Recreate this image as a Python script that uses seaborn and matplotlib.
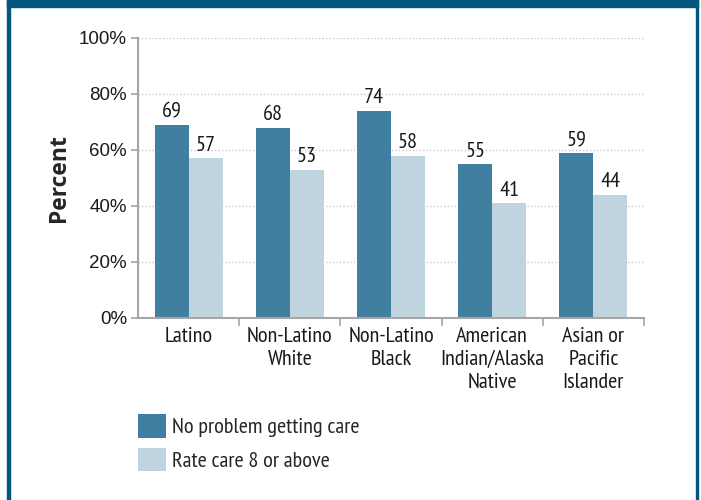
import pandas as pd
import matplotlib.pyplot as plt
import seaborn as sns
from matplotlib.patches import Rectangle
from matplotlib.ticker import FixedLocator

# Data
groups = ['Latino', 'Non-Latino\nWhite', 'Non-Latino\nBlack',
          'American\nIndian/Alaska\nNative', 'Asian or\nPacific\nIslander']
measures = ['No problem getting care', 'Rate care 8 or above']
no_problem = [69, 68, 74, 55, 59]
rate_care = [57, 53, 58, 41, 44]

dark = '#417fa0'
light = '#c0d4df'
frame = '#03577f'

df = pd.DataFrame({
    'Group': groups * 2,
    'Measure': [measures[0]] * 5 + [measures[1]] * 5,
    'Value': no_problem + rate_care,
})

sns.set_style('white')
plt.rcParams['font.family'] = ['PT Sans Narrow', 'Fira Sans Condensed',
                               'Roboto Condensed', 'Open Sans', 'DejaVu Sans']

W, H = 701, 500
fig = plt.figure(figsize=(W / 100, H / 100), dpi=100)
ax = fig.add_axes([138 / W, 1 - 318 / H, (644 - 138) / W, (318 - 38) / H])

sns.barplot(data=df, x='Group', y='Value', hue='Measure',
            palette=[dark, light], width=0.67, saturation=1, ax=ax,
            linewidth=0)

handles, labels = ax.get_legend_handles_labels()
ax.get_legend().remove()

for c in ax.containers:
    ax.bar_label(c, padding=2.5, fontsize=16, color='#1a1a1a')

ax.set_ylim(0, 100)
ax.set_xlim(-0.5, 4.5)
ax.set_yticks([0, 20, 40, 60, 80, 100])
ax.set_yticklabels([f'{v}%' for v in range(0, 101, 20)],
                   family=['Liberation Sans', 'DejaVu Sans'])
ax.yaxis.grid(True, linestyle=(0, (1, 1.5)), color='#c8c8c8', linewidth=1)
ax.set_axisbelow(True)

for s in ['top', 'right']:
    ax.spines[s].set_visible(False)
for s in ['left', 'bottom']:
    ax.spines[s].set_color('#a6a6a6')
    ax.spines[s].set_linewidth(1.5)

ax.tick_params(axis='y', left=True, length=5, width=1.2, color='#a6a6a6',
               labelsize=13.5, labelcolor='#1a1a1a', pad=3)
ax.tick_params(axis='x', which='major', bottom=False, labelsize=16,
               labelcolor='#1a1a1a', pad=3)
ax.xaxis.set_minor_locator(FixedLocator([0.5, 1.5, 2.5, 3.5, 4.5]))
ax.tick_params(axis='x', which='minor', bottom=True, length=6, width=1.2,
               color='#a6a6a6')
for t in ax.get_xticklabels():
    t.set_linespacing(1.27)

ax.set_xlabel('')
ax.set_ylabel('Percent', fontsize=16.5, fontweight='bold', labelpad=6,
              family=['Open Sans', 'DejaVu Sans'])

leg_handles = [Rectangle((0, 0), 1, 1, facecolor=h.get_facecolor(), linewidth=0)
               for h in handles]
fig.legend(leg_handles, labels, loc='upper left',
           bbox_to_anchor=(138 / W, 1 - 414 / H), borderaxespad=0,
           borderpad=0, frameon=False, fontsize=16, handlelength=1.26,
           handleheight=1.26, handletextpad=0.27, labelspacing=0.45)

# dark blue frame
fig.patches.append(Rectangle((7 / W, 1 - 7 / H), (698 - 7) / W, 7 / H,
                             transform=fig.transFigure, color=frame))
fig.patches.append(Rectangle((7 / W, 0), 3 / W, 1,
                             transform=fig.transFigure, color=frame))
fig.patches.append(Rectangle((695.5 / W, 0), 2.5 / W, 1,
                             transform=fig.transFigure, color=frame))

fig.savefig('out.png', dpi=100)
